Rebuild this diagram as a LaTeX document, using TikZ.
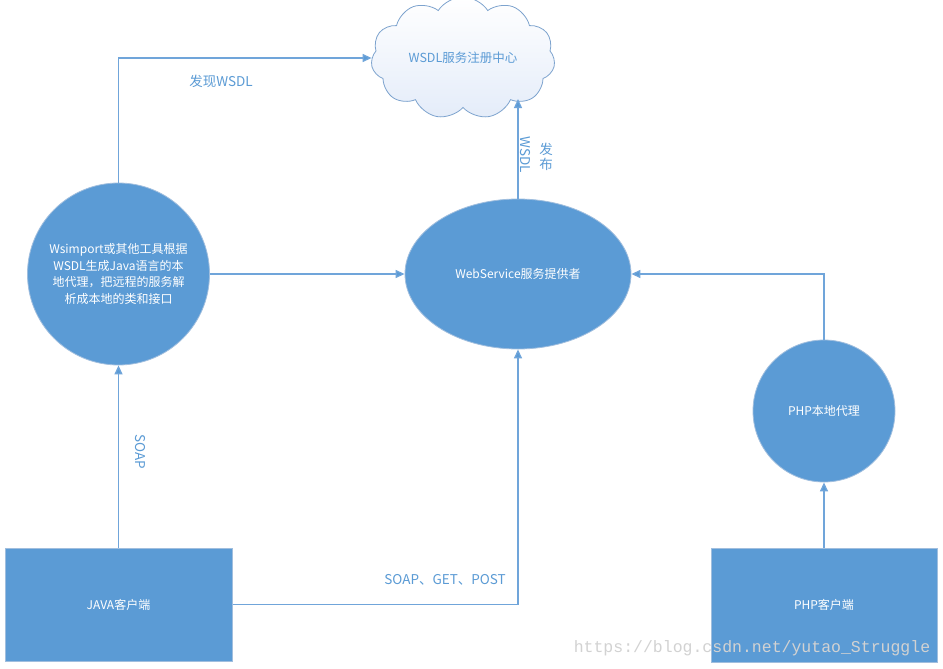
\documentclass[tikz,border=0pt]{standalone}
\usepackage{fontspec}
\setmainfont{Noto Sans CJK SC}
\newfontfamily\wmfont{Liberation Mono}
\usetikzlibrary{arrows.meta,positioning,shapes.geometric,shapes.symbols}
\definecolor{boxblue}{RGB}{91,155,213}
\definecolor{edgeblue}{RGB}{160,190,222}
\definecolor{lineblue}{RGB}{112,165,218}
\definecolor{labelblue}{RGB}{91,155,213}
\definecolor{cloudfill}{RGB}{228,236,249}
\definecolor{cloudedge}{RGB}{125,163,206}

\tikzset{
  ball/.style={circle,fill=boxblue,draw=edgeblue,line width=0.8pt,text=white,
    font=\fontsize{12}{16.5}\selectfont,align=center,inner sep=0pt},
  client/.style={rectangle,fill=boxblue,draw=edgeblue,line width=1pt,text=white,
    font=\fontsize{12}{14}\selectfont},
  flow/.style={lineblue,line width=1.3pt,-{Triangle[length=9pt,width=8pt,fill=boxblue]}},
  tag/.style={labelblue,font=\fontsize{13.5}{15}\selectfont,inner sep=0pt}
}

\begin{document}
\begin{tikzpicture}[x=1pt,y=-1pt]
  \useasboundingbox[fill=white] (0,0) rectangle (943,669);
  % ---- registry cloud ----
  \node[cloud,cloud puffs=11,cloud puff arc=115,aspect=1.5,
        minimum width=184pt,minimum height=122pt,inner sep=0pt,
        draw=cloudedge,line width=0.8pt,top color=white,bottom color=cloudfill,
        text=labelblue,font=\fontsize{12.5}{14}\selectfont] (reg) at (463,58) {WSDL服务注册中心};
  \coordinate (pub) at (518,99);
  % ---- proxies and provider ----
  \node[ball,minimum size=182pt] (jproxy) at (118.5,274)
    {Wsimport或其他工具根据\\WSDL生成Java语言的本\\地代理，把远程的服务解\\析成本地的类和接口};
  \node[ellipse,fill=boxblue,draw=edgeblue,line width=0.8pt,text=white,inner sep=0pt,
        minimum width=226pt,minimum height=150pt,
        font=\fontsize{12}{14}\selectfont] (ws) at (518,274) {WebService服务提供者};
  \node[ball,minimum size=142pt] (pproxy) at (824,411) {PHP本地代理};
  % ---- clients ----
  \node[client,minimum width=227pt,minimum height=113pt] (jclient) at (118.5,604.5) {JAVA客户端};
  \node[client,minimum width=226pt,minimum height=114pt] (pclient) at (824,605) {PHP客户端};
  % ---- connectors ----
  \draw[flow] (jproxy.north) |- (reg);
  \draw[flow] (ws.north) -- (pub);
  \draw[flow] (jproxy.east) -- (ws.west);
  \draw[flow] (jclient.north) -- (jproxy.south);
  \draw[flow] (jclient.east) -| (ws.south);
  \draw[flow] (pclient.north) -- (pproxy.south);
  \draw[flow] (pproxy.north) |- (ws.east);
  % ---- labels ----
  \node[tag] (findlbl) at (221,81) {发现WSDL};
  \node[tag,rotate=-90] (wsdllbl) at (525,155) {WSDL};
  \node[tag,align=center] (publbl) at (546,157) {发\\布};
  \node[tag,rotate=-90] (soaplbl) at (140,452) {SOAP};
  \node[tag,anchor=east] (protolbl) at (506,580) {SOAP、GET、POST};
  % watermark
  \node[gray!35,font=\wmfont\fontsize{16.5}{18}\selectfont] (mark) at (752,648)
    {https://blog.csdn.net/yutao\_Struggle};
\end{tikzpicture}
\end{document}
